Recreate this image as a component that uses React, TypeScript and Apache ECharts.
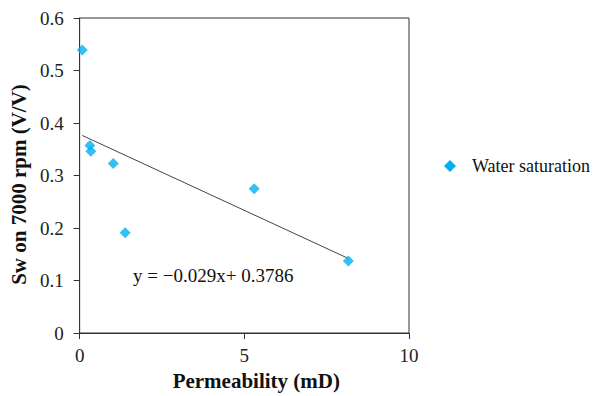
import React, { useEffect, useRef } from "react";
import * as echarts from "echarts";

const permeability = [0.08, 0.31, 0.34, 1.02, 1.38, 5.3, 8.16];
const waterSaturation = [0.539, 0.357, 0.346, 0.323, 0.191, 0.275, 0.137];
const slope = -0.029;
const intercept = 0.3786;
const equationText = "y = \u22120.029x+ 0.3786";
const seriesName = "Water saturation";
const xTitle = "Permeability (mD)";
const yTitle = "Sw on 7000 rpm (V/V)";

const FONT = "Liberation Serif";
const MARKER = "#00B0F0";

export default function App() {
  const ref = useRef<HTMLDivElement>(null);
  useEffect(() => {
    if (!ref.current) return;
    const chart = echarts.init(ref.current, undefined, { renderer: "svg" });
    const xMin = Math.min(...permeability);
    const xMax = Math.max(...permeability);
    const trend = [
      [xMin, slope * xMin + intercept],
      [xMax, slope * xMax + intercept],
    ];
    chart.setOption({
      animation: false,
      backgroundColor: "#fff",
      textStyle: { fontFamily: FONT },
      grid: {
        left: 79,
        right: 186,
        top: 18,
        bottom: 62,
        show: true,
        borderColor: "#333",
        borderWidth: 1,
      },
      xAxis: {
        type: "value",
        min: 0,
        max: 10,
        interval: 5,
        name: xTitle,
        nameLocation: "middle",
        nameGap: 37,
        nameTextStyle: {
          fontFamily: FONT,
          fontSize: 21,
          fontWeight: "bold",
          color: "#111",
          padding: [0, 0, 0, 24],
        },
        axisLine: { show: true, onZero: false, lineStyle: { color: "#333", width: 1 } },
        axisTick: { show: true, length: 6, lineStyle: { color: "#333" } },
        axisLabel: { fontFamily: FONT, fontSize: 19, color: "#222", margin: 13 },
        splitLine: { show: false },
      },
      yAxis: {
        type: "value",
        min: 0,
        max: 0.6,
        interval: 0.1,
        name: yTitle,
        nameLocation: "middle",
        nameGap: 47,
        nameTextStyle: {
          fontFamily: FONT,
          fontSize: 21,
          fontWeight: "bold",
          color: "#111",
          padding: [0, 18, 0, 0],
        },
        axisLine: { show: true, onZero: false, lineStyle: { color: "#333", width: 1 } },
        axisTick: { show: true, length: 6, lineStyle: { color: "#333" } },
        axisLabel: { fontFamily: FONT, fontSize: 19, color: "#222", margin: 16 },
        splitLine: { show: false },
      },
      series: [
        {
          name: seriesName,
          type: "scatter",
          symbol: "diamond",
          symbolSize: 11,
          itemStyle: { color: MARKER },
          data: permeability.map((x, i) => [x, waterSaturation[i]]),
          z: 3,
        },
        {
          name: "trend",
          type: "line",
          data: trend,
          symbol: "none",
          lineStyle: { color: "#444", width: 1 },
          silent: true,
          z: 2,
        },
      ],
      graphic: [
        {
          type: "text",
          left: 133,
          top: 266,
          style: { text: equationText, font: `19px ${FONT}`, fill: "#111" },
        },
        {
          type: "group",
          left: 444,
          top: 157,
          children: [
            {
              type: "polygon",
              shape: { points: [[6, 0], [12, 6], [6, 12], [0, 6]] },
              style: { fill: MARKER },
            },
            {
              type: "text",
              x: 28,
              y: 6,
              style: {
                text: seriesName,
                font: `18px ${FONT}`,
                fill: "#111",
                verticalAlign: "middle",
              },
            },
          ],
        },
      ],
    });
    return () => chart.dispose();
  }, []);
  return (
    <div
      ref={ref}
      style={{ position: "absolute", left: 0, top: 0, width: 595, height: 396 }}
    />
  );
}
